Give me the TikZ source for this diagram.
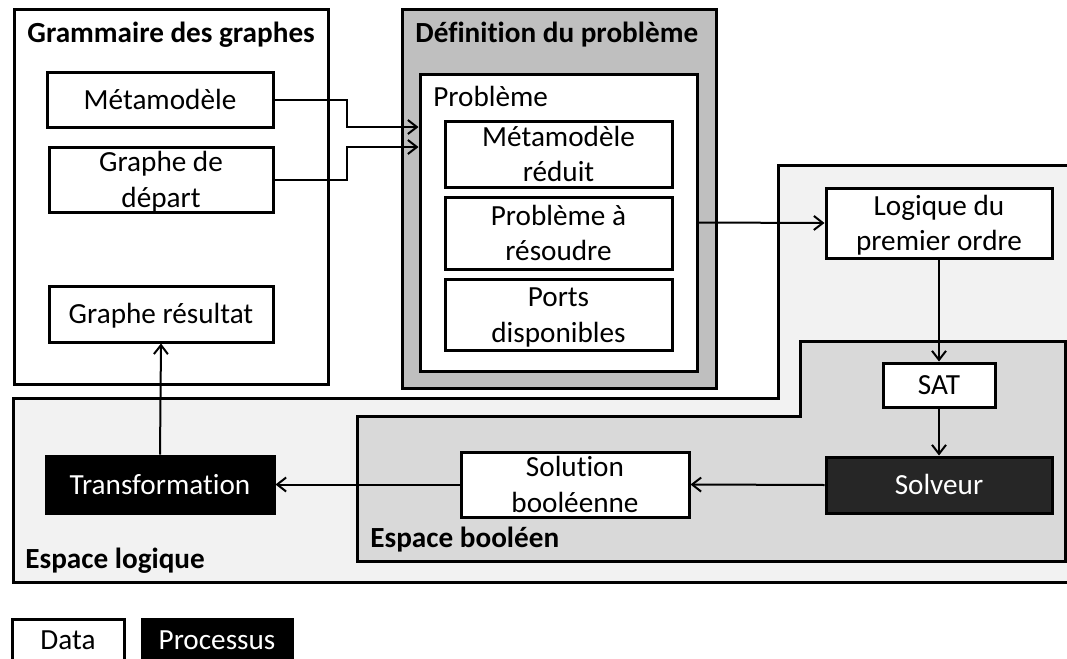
\documentclass[tikz,border=0pt]{standalone}
\usepackage{fontspec}
\setmainfont{Carlito}[Ligatures=NoCommon]
\usetikzlibrary{arrows.meta}
\definecolor{logicfill}{HTML}{F2F2F2}
\definecolor{boolfill}{HTML}{D9D9D9}
\definecolor{deffill}{HTML}{BFBFBF}
\definecolor{solvfill}{HTML}{262626}
\begin{document}
\begin{tikzpicture}[x=0.5pt,y=-0.5pt,
  font=\fontsize{14.6}{17.8}\selectfont,
  frame/.style={draw=black,line width=1.5pt,line join=miter,inner sep=0pt},
  % text lines laid out with the font's full ascent/descent so blocks centre evenly
  boxtext/.style={align=center,text height=13.9pt,text depth=3.93pt,inner ysep=-2pt},
  twoline/.style={text height=31.7pt},
  databox/.style={frame,fill=white,boxtext},
  procbox/.style={frame,fill=black,text=white,boxtext},
  titletext/.style={font=\fontsize{14.6}{17.8}\selectfont\bfseries,anchor=base west,inner sep=0pt},
  plaintext/.style={anchor=base west,inner sep=0pt},
  arr/.style={line width=1pt,-{Straight Barb[length=4.5pt,width=7pt,line width=1pt]}},
]
\clip (0,0) rectangle (1067,659);

% logical space (light grey, stepped outline)
\draw[frame,fill=logicfill] (778,165) -- (1080,165) -- (1080,582) -- (13,582)
  -- (13,398) -- (778,398) -- cycle;
% boolean space (grey, stepped outline)
\draw[frame,fill=boolfill] (800,341) -- (1065,341) -- (1065,561) -- (357,561)
  -- (357,416) -- (800,416) -- cycle;

% graph grammar group
\node[frame,fill=white,minimum width=157pt,minimum height=187.5pt] (gram) at (171,196.5) {};
\node[titletext] (gramtitle) at (27,42) {Grammaire des graphes};
\node[databox,minimum width=113pt,minimum height=27.5pt] (meta) at (160,99.5) {Métamodèle};
\node[databox,twoline,minimum width=112pt,minimum height=32.5pt] (depart) at (161,179.5) {Graphe de\\départ};
\node[databox,minimum width=112pt,minimum height=28pt] (resultat) at (161,314) {Graphe résultat};

% problem definition group
\node[frame,fill=deffill,minimum width=157pt,minimum height=189.5pt] (def) at (559,198.5) {};
\node[titletext] (deftitle) at (415,42) {Définition du problème};
\node[frame,fill=white,minimum width=138.5pt,minimum height=148.5pt] (prob) at (558.5,222.5) {};
\node[plaintext] (probtitle) at (433,106) {Problème};
\node[databox,twoline,minimum width=113.5pt,minimum height=33pt] (metared) at (558.5,154) {Métamodèle\\réduit};
\node[databox,twoline,minimum width=113.5pt,minimum height=36pt] (pres) at (558.5,233) {Problème à\\résoudre};
\node[databox,twoline,minimum width=113.5pt,minimum height=35.5pt] (ports) at (558.5,314.5) {Ports\\disponibles};

% logical and boolean steps
\node[databox,twoline,minimum width=113pt,minimum height=35pt] (logique) at (939,223) {Logique du\\premier ordre};
\node[databox,minimum width=56pt,minimum height=22pt] (sat) at (939,385) {SAT};
\node[procbox,fill=solvfill,minimum width=113pt,minimum height=28pt] (solveur) at (939,485) {Solveur};
\node[databox,twoline,minimum width=114pt,minimum height=32.5pt] (solution) at (575,484.5) {Solution\\booléenne};
\node[procbox,minimum width=114pt,minimum height=28.5pt] (transfo) at (160,484.5) {Transformation};

\node[titletext] (booltitle) at (370,547) {Espace booléen};
\node[titletext] (logictitle) at (25,568) {Espace logique};

% legend
\node[databox,anchor=north,minimum width=56pt,text height=15pt,text depth=16pt,inner ysep=0pt] (data) at (68,618) {Data};
\node[procbox,anchor=north,minimum width=75pt,text height=15pt,text depth=16pt,inner ysep=0pt] (proc) at (217,618) {Processus};

% connectors
\coordinate (j1) at (347,127);
\coordinate (j2) at (347,147);
\draw[arr] (meta.east) -| (j1) -- (j1 -| prob.west);
\draw[arr] (depart.east) -| (j2) -- (j2 -| prob.west);
\draw[arr] (prob.east) -- (logique.west);
\draw[arr] (logique.south) -- (sat.north);
\draw[arr] (sat.south) -- (solveur.north);
\draw[arr] (solveur.west) -- (solution.east);
\draw[arr] (solution.west) -- (transfo.east);
\draw[arr] (transfo.north) -- (resultat.south);
\end{tikzpicture}
\end{document}
